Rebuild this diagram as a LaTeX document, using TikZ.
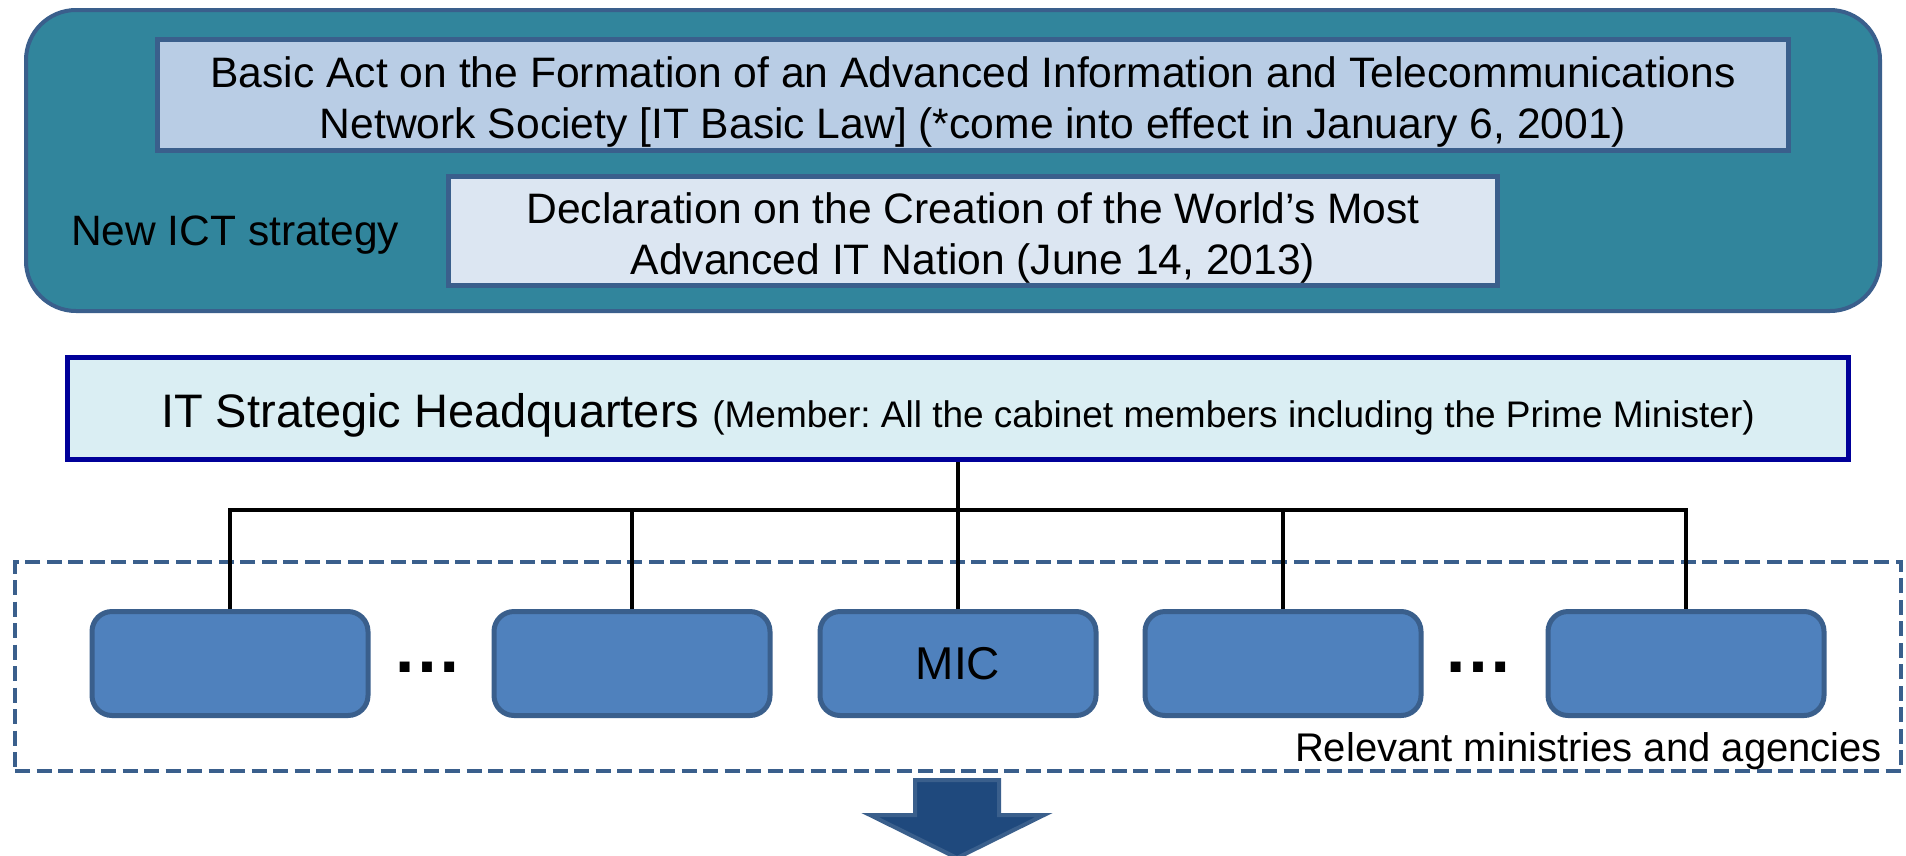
\documentclass[tikz,border=0pt]{standalone}
\usepackage{fontspec}
\setmainfont{Liberation Sans}
\frenchspacing
\definecolor{tealfill}{HTML}{31859C}
\definecolor{bordb}{HTML}{3A5F8C}
\definecolor{lawfill}{HTML}{B9CDE5}
\definecolor{declfill}{HTML}{DCE6F2}
\definecolor{hqfill}{HTML}{DAEEF3}
\definecolor{hqline}{HTML}{000099}
\definecolor{minfill}{HTML}{4F81BD}
\definecolor{arrowfill}{HTML}{1F497D}
\tikzset{
  outerbox/.style={draw=bordb, fill=tealfill, line width=4pt, rounded corners=50pt, inner sep=0pt},
  lawbox/.style={draw=bordb, fill=lawfill, line width=5pt, inner sep=0pt},
  declbox/.style={draw=bordb, fill=declfill, line width=5pt, inner sep=0pt},
  boxtext/.style={inner sep=0pt, align=center, font=\fontsize{42.6}{51}\selectfont},
  hqbox/.style={draw=hqline, fill=hqfill, line width=5pt, inner sep=0pt},
  minbox/.style={draw=bordb, fill=minfill, line width=5pt, rounded corners=20pt, inner sep=0pt,
    minimum width=276pt, minimum height=104pt, font=\fontsize{46}{50}\selectfont},
  groupbox/.style={draw=bordb, line width=4pt, dash pattern=on 15pt off 6.5pt, inner sep=0pt},
  tree/.style={draw=black, line width=4pt},
  plain/.style={inner sep=0pt, outer sep=0pt},
  bigarrow/.style={draw=bordb, fill=arrowfill, line width=4pt, line join=miter}
}
\begin{document}
\begin{tikzpicture}[x=1pt,y=-1pt]
\useasboundingbox (0,0) rectangle (1906,855);
\fill[white] (0,0) rectangle (1906,855);

% top panel
\node[outerbox, minimum width=1854pt, minimum height=301pt] (outer) at (953,160.5) {};
\node[lawbox, minimum width=1631pt, minimum height=111pt] (law) at (973,95) {};
\node[boxtext] (lawtext) at (973,102)
  {Basic Act on the Formation of an Advanced Information and Telecommunications\\
   Network Society [IT Basic Law] (*come into effect in January 6, 2001)};
\node[plain, font=\fontsize{42.5}{51}\selectfont, anchor=base west] (ict) at (71,245) {New ICT strategy};
\node[declbox, minimum width=1049pt, minimum height=109pt] (decl) at (973,231) {};
\node[boxtext] (decltext) at (973,238)
  {Declaration on the Creation of the World’s Most\\ Advanced IT Nation (June 14, 2013)};

% headquarters
\node[hqbox, minimum width=1781pt, minimum height=102pt] (hq) at (958,408.5) {};
\node[plain, anchor=base] (hqtext) at (958,427)
  {{\fontsize{47}{50}\selectfont IT Strategic Headquarters }{\fontsize{37}{40}\selectfont (Member: All the cabinet members including the Prime Minister)}};

% group of ministries
\node[groupbox, minimum width=1886pt, minimum height=209pt] (group) at (958,666.5) {};

\node[minbox] (m1) at (230,663.5) {};
\node[minbox] (m2) at (632,663.5) {};
\node[minbox] (mic) at (958,663.5) {MIC};
\node[minbox] (m4) at (1283,663.5) {};
\node[minbox] (m5) at (1686,663.5) {};

\node[plain, font=\fontsize{70}{70}\selectfont\bfseries, anchor=base] (dots1) at (427,672) {…};
\node[plain, font=\fontsize{70}{70}\selectfont\bfseries, anchor=base] (dots2) at (1478,672) {…};

\node[plain, font=\fontsize{40}{44}\selectfont, anchor=base east] (rel) at (1882,761) {Relevant ministries and agencies};

% tree connectors
\coordinate (bus) at (958,510);
\draw[tree] (hq.south) -- (bus);
\draw[tree] (m1.north) |- (bus) -| (m5.north);
\draw[tree] (m2.north) -- (m2.north |- bus);
\draw[tree] (mic.north) -- (bus);
\draw[tree] (m4.north) -- (m4.north |- bus);

% big arrow
\draw[bigarrow] (915,780) -- (999,780) -- (999,815) -- (1044,815) -- (957,858) -- (870,815) -- (915,815) -- cycle;
\end{tikzpicture}
\end{document}
